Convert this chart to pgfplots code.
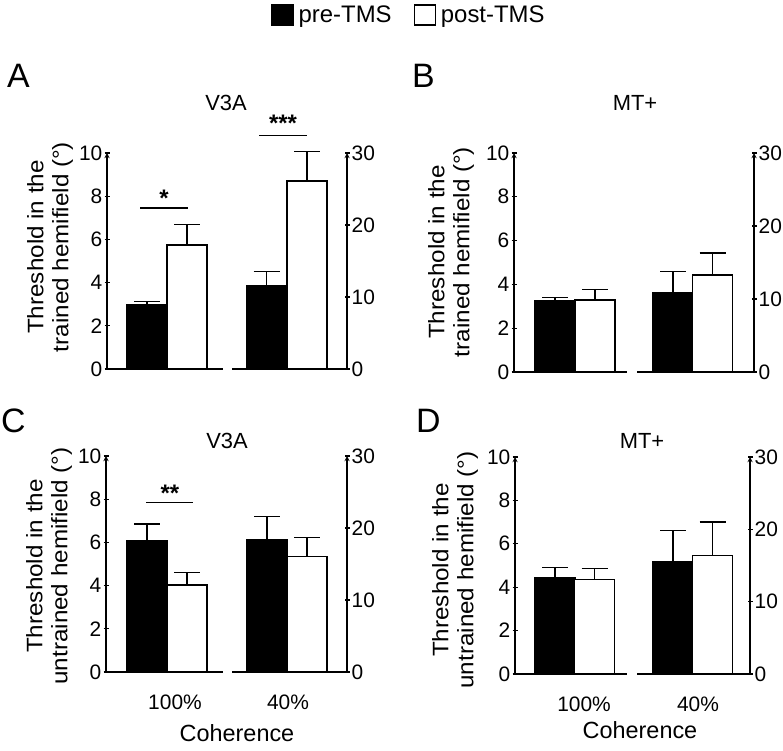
\documentclass[border=0pt]{standalone}
\usepackage{fontspec}
\setmainfont{Liberation Sans}
\usepackage{pgfplots}
\pgfplotsset{compat=1.18}
\pgfplotsset{
 base/.style={scale only axis, anchor=south west, clip=false, xmin=0, ymin=0,
   axis x line=bottom, axis line style={-, line width=1.3bp, black},
   xtick=\empty, tick align=outside, major tick length=5bp,
   tick style={black, line width=1.3bp},
   ticklabel style={font=\fontsize{21}{21}\selectfont},
   /pgf/number format/assume math mode=true,
   yticklabel style={inner sep=2bp}},
 L/.style={base, axis y line=left, ymax=10, ytick={0,2,4,6,8,10}},
 R/.style={base, axis y line=right, ymax=30, ytick={0,10,20,30}},
 xlab/.style={xtick style={draw=none}, xticklabel style={font=\fontsize{21}{21}\selectfont, anchor=center, yshift=-25bp}},
 prebar/.style={ybar, bar shift=0pt, bar width=40, fill=black, draw=black, line width=1.3bp,
   error bars/.cd, y dir=plus, y explicit, error bar style={line width=1.3bp, black},
   error mark options={rotate=90, line width=1.3bp, mark size=13bp, black}},
 postbar/.style={ybar, bar shift=0pt, bar width=40, fill=white, draw=black, line width=1.3bp,
   error bars/.cd, y dir=plus, y explicit, error bar style={line width=1.3bp, black},
   error mark options={rotate=90, line width=1.3bp, mark size=13bp, black}},
}
\tikzset{
 ylab/.style={rotate=90, align=center, xscale=1.08, font=\fontsize{22.5}{25}\selectfont},
 ttl/.style={font=\fontsize{22}{22}\selectfont, inner sep=0pt},
 letter/.style={font=\fontsize{34}{34}\selectfont, anchor=base west, inner sep=0pt},
 star/.style={font=\bfseries\fontsize{24}{24}\selectfont, anchor=base, inner sep=0pt},
 sig/.style={line width=1.3bp},
}
\newcommand{\legfont}{\fontsize{24}{24}\selectfont}
\begin{document}
\begin{tikzpicture}[x=1bp,y=1bp]
\useasboundingbox (0,0) rectangle (783,751);
% ---------- Panel A ----------
\begin{axis}[L, at={(107bp,382bp)}, width=116bp, height=216bp, xmax=116,
  legend style={at={(axis description cs:2.603,1.639)}, anchor=center, draw=none, fill=none,
    legend columns=2,
    /tikz/every even column/.append style={column sep=20bp}}]
\addlegendimage{legend image code/.code={\draw[fill=black,line width=1.3bp] (0bp,-10bp) rectangle (21bp,10bp);}}
\addlegendentry{\legfont\hspace*{3bp}pre-TMS}
\addlegendimage{legend image code/.code={\draw[fill=white,line width=1.3bp] (0bp,-10bp) rectangle (21bp,10bp);}}
\addlegendentry{\legfont\hspace*{3bp}post-TMS}
\addplot[prebar] coordinates {(40,2.96) +- (0,0.16)};
\addplot[postbar] coordinates {(80,5.74) +- (0,0.96)};
\draw[sig] (axis cs:33,7.45) -- (axis cs:81,7.45);
\node[star] at ([yshift=2bp]axis cs:57,7.45) {*};
\end{axis}
\begin{axis}[R, at={(232bp,382bp)}, width=115bp, height=216bp, xmax=115]
\addplot[prebar] coordinates {(34.5,11.6) +- (0,1.9)};
\addplot[postbar] coordinates {(75,26.1) +- (0,4.1)};
\draw[sig] (axis cs:27,32.4) -- (axis cs:75,32.4);
\node[star] at ([yshift=4bp]axis cs:51,32.4) {***};
\end{axis}
% ---------- Panel B ----------
\begin{axis}[L, at={(514bp,379bp)}, width=113bp, height=219bp, xmax=113]
\addplot[prebar] coordinates {(41,3.25) +- (0,0.15)};
\addplot[postbar] coordinates {(81,3.29) +- (0,0.49)};
\end{axis}
\begin{axis}[R, at={(637bp,379bp)}, width=117bp, height=219bp, xmax=117]
\addplot[prebar] coordinates {(36,10.9) +- (0,2.9)};
\addplot[postbar] coordinates {(75.5,13.3) +- (0,3.0)};
\end{axis}
% ---------- Panel C ----------
\begin{axis}[L, xlab, at={(106bp,79bp)}, width=117bp, height=216bp, xmax=117,
  xtick={69}, xticklabels={100\%}]
\addplot[prebar] coordinates {(41,6.06) +- (0,0.79)};
\addplot[postbar] coordinates {(81,4.03) +- (0,0.59)};
\draw[sig] (axis cs:40,7.85) -- (axis cs:87,7.85);
\node[star] at ([yshift=1bp]axis cs:64,7.85) {**};
\end{axis}
\begin{axis}[R, xlab, at={(232bp,79bp)}, width=115bp, height=216bp, xmax=115,
  xtick={56}, xticklabels={40\%}]
\addplot[prebar] coordinates {(35,18.4) +- (0,3.2)};
\addplot[postbar] coordinates {(75,16.0) +- (0,2.7)};
\end{axis}
% ---------- Panel D ----------
\begin{axis}[L, xlab, at={(515bp,77bp)}, width=112bp, height=217bp, xmax=112,
  xtick={69}, xticklabels={100\%}]
\addplot[prebar] coordinates {(40,4.46) +- (0,0.44)};
\addplot[postbar] coordinates {(79.5,4.36) +- (0,0.51)};
\end{axis}
\begin{axis}[R, xlab, at={(637bp,77bp)}, width=113bp, height=217bp, xmax=113,
  xtick={61}, xticklabels={40\%}]
\addplot[prebar] coordinates {(36,15.5) +- (0,4.3)};
\addplot[postbar] coordinates {(75.5,16.4) +- (0,4.6)};
\end{axis}
% ---------- texts ----------
\node[letter] at (7,663) {A};
\node[letter] at (412,663) {B};
\node[letter] at (1,318) {C};
\node[letter] at (416,318) {D};
\node[ttl] at (226,648) {V3A};
\node[ttl] at (635,648) {MT+};
\node[ttl] at (227,310) {V3A};
\node[ttl] at (642,310) {MT+};
\node[ylab] at (50,504) {Threshold in the\\trained hemifield (°)};
\node[ylab] at (451,499) {Threshold in the\\trained hemifield (°)};
\node[ylab] at (49,185) {Threshold in the\\untrained hemifield (°)};
\node[ylab] at (455,181) {Threshold in the\\untrained hemifield (°)};
\node[font=\fontsize{23.5}{23.5}\selectfont, inner sep=0pt] at (237,18) {Coherence};
\node[font=\fontsize{23.5}{23.5}\selectfont, inner sep=0pt] at (640,21) {Coherence};
\end{tikzpicture}
\end{document}
